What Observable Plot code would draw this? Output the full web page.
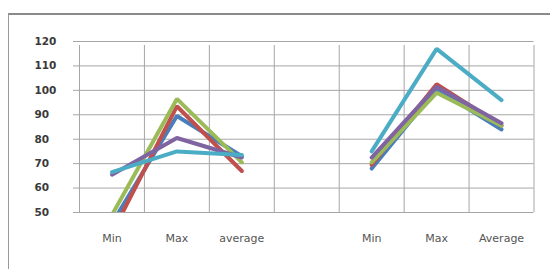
<!DOCTYPE html>
<html>
<head>
<meta charset="utf-8">
<script src="https://cdn.jsdelivr.net/npm/d3@7"></script>
<script src="https://cdn.jsdelivr.net/npm/@observablehq/plot@0.6"></script>
<style>
  html, body { margin: 0; padding: 0; background: #fff; }
  #wrap { position: relative; width: 550px; height: 269px; overflow: hidden; }
  #border { position: absolute; left: 8px; top: 13px; width: 600px; height: 300px;
            border-left: 1px solid #9a9a9a; border-top: 2px solid #8a8a8a; box-sizing: border-box; }
  #chart { position: absolute; left: 0; top: 0; }
</style>
</head>
<body>
<div id="wrap"><div id="border"></div><div id="chart"></div></div>
<script>
const categories = ["Min", "Max", "average", "", "Min", "Max", "Average"];
const seriesNames = ["S1", "S2", "S3", "S4", "S5"];
const seriesColors = ["#4a7ebb", "#c0504d", "#9bbb59", "#8064a2", "#4bacc6"];
const s1 = [45.5, 89.5, 73, NaN, 68, 100.5, 84];
const s2 = [41.5, 93.5, 67, NaN, 69.5, 102.5, 85.5];
const s3 = [49, 96.5, 70.5, NaN, 70.5, 99, 85.5];
const s4 = [65.5, 80.5, 72.5, NaN, 72.5, 101.5, 86.5];
const s5 = [66.5, 75, 73.5, NaN, 75, 117, 96];
const yTicks = [50, 60, 70, 80, 90, 100, 110, 120];

const allSeries = [s1, s2, s3, s4, s5];
const rows = [];
allSeries.forEach((vals, k) => vals.forEach((v, i) => rows.push({i, v, s: seriesNames[k]})));
const catIdx = categories.map((_, i) => i);
const boundaries = categories.map((_, i) => i - 0.5).concat([categories.length - 0.5]);
const labelIdx = catIdx.filter(i => categories[i] !== "");

const grid = "#a6a6a6";
const chart = Plot.plot({
  width: 550, height: 269,
  marginLeft: 79, marginRight: 16.5, marginTop: 41, marginBottom: 57,
  style: {fontFamily: "'DejaVu Sans', sans-serif", background: "transparent", overflow: "visible"},
  x: {type: "linear", domain: [-0.5, categories.length - 0.5]},
  y: {domain: [50, 120]},
  color: {domain: seriesNames, range: seriesColors},
  marks: [
    Plot.ruleY(yTicks, {x1: -0.5, x2: categories.length - 0.5, stroke: grid, strokeWidth: 1, insetLeft: -6}),
    Plot.ruleX(boundaries, {y1: 50, y2: 120, stroke: grid, strokeWidth: 1, insetBottom: -4}),
    Plot.axisY({ticks: yTicks, tickSize: 0, tickPadding: 45, textAnchor: "start", fontSize: 10.5, fontWeight: "bold", fill: "#3a3a3a", label: null, style: "letter-spacing:1.2px"}),
    Plot.axisX({ticks: labelIdx, tickFormat: i => categories[i], tickSize: 0, tickPadding: 22, fontSize: 11, fill: "#555", label: null, style: "letter-spacing:0.5px"}),
    Plot.line(rows, {x: "i", y: "v", z: "s", stroke: "s", strokeWidth: 4, strokeLinejoin: "miter", strokeLinecap: "round", clip: true})
  ]
});
document.getElementById("chart").appendChild(chart);
</script>
</body>
</html>
